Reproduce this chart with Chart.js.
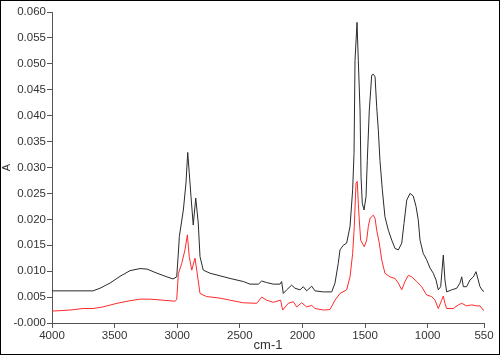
<!DOCTYPE html>
<html>
<head>
<meta charset="utf-8">
<script src="https://cdn.jsdelivr.net/npm/chart.js@4/dist/chart.umd.min.js"></script>
<style>
  html, body { margin: 0; padding: 0; background: #fff; }
  #wrap { width: 500px; height: 355px; }
</style>
</head>
<body>
<div id="wrap"><canvas id="irChart" width="500" height="355"></canvas></div>
<script>
// wavenumbers (cm-1) and absorbance
const blackWn = [4000, 3673, 3617, 3537, 3457, 3377, 3297, 3241, 3161, 3082, 3034, 3004, 2991, 2983, 2951, 2930, 2916, 2904, 2890, 2872, 2852, 2832, 2818, 2792, 2738, 2658, 2578, 2472, 2419, 2352, 2325, 2285, 2233, 2179, 2166, 2153, 2126, 2086, 2059, 2019, 1993, 1966, 1926, 1900, 1833, 1766, 1740, 1714, 1700, 1674, 1647, 1620, 1599, 1588, 1580, 1564, 1554, 1540, 1532, 1522, 1508, 1492, 1482, 1466, 1455, 1447, 1434, 1420, 1407, 1394, 1381, 1362, 1341, 1314, 1287, 1261, 1234, 1207, 1189, 1167, 1141, 1115, 1093, 1075, 1061, 1035, 1008, 981, 955, 933, 915, 896, 875, 862, 848, 808, 768, 742, 728, 715, 689, 662, 635, 614, 596, 582, 560, 550];
const blackAbs = [0.0062, 0.0062, 0.0067, 0.0077, 0.0090, 0.0101, 0.0105, 0.0104, 0.0096, 0.0089, 0.0085, 0.0089, 0.0135, 0.0167, 0.0218, 0.0270, 0.0329, 0.0290, 0.0244, 0.0189, 0.0241, 0.0193, 0.0128, 0.0102, 0.0096, 0.0091, 0.0086, 0.0080, 0.0075, 0.0075, 0.0081, 0.0078, 0.0075, 0.0075, 0.0080, 0.0057, 0.0064, 0.0073, 0.0067, 0.0064, 0.0070, 0.0062, 0.0071, 0.0062, 0.0060, 0.0060, 0.0077, 0.0115, 0.0141, 0.0150, 0.0154, 0.0186, 0.0257, 0.0327, 0.0507, 0.0580, 0.0507, 0.0411, 0.0282, 0.0231, 0.0218, 0.0244, 0.0314, 0.0411, 0.0449, 0.0478, 0.0480, 0.0475, 0.0417, 0.0372, 0.0314, 0.0257, 0.0205, 0.0179, 0.0160, 0.0144, 0.0141, 0.0154, 0.0192, 0.0237, 0.0250, 0.0245, 0.0225, 0.0199, 0.0160, 0.0134, 0.0122, 0.0106, 0.0096, 0.0083, 0.0064, 0.0070, 0.0131, 0.0083, 0.0060, 0.0064, 0.0067, 0.0077, 0.0089, 0.0070, 0.0070, 0.0083, 0.0089, 0.0099, 0.0083, 0.0070, 0.0062, 0.0061];

const redWn = [4000, 3856, 3752, 3673, 3593, 3481, 3377, 3297, 3217, 3113, 3018, 3004, 2991, 2964, 2938, 2919, 2904, 2884, 2858, 2844, 2818, 2765, 2658, 2578, 2472, 2365, 2325, 2285, 2233, 2174, 2158, 2113, 2073, 2046, 2006, 1966, 1926, 1900, 1833, 1780, 1740, 1700, 1647, 1620, 1599, 1586, 1572, 1562, 1554, 1546, 1535, 1522, 1506, 1487, 1474, 1460, 1434, 1420, 1407, 1386, 1367, 1341, 1301, 1261, 1234, 1207, 1181, 1154, 1127, 1087, 1048, 1008, 968, 941, 915, 888, 875, 862, 848, 795, 755, 728, 689, 648, 608, 582, 556, 550];
const redAbs = [0.0023, 0.0025, 0.0028, 0.0028, 0.0031, 0.0038, 0.0043, 0.0046, 0.0046, 0.0044, 0.0042, 0.0045, 0.0095, 0.0115, 0.0141, 0.0170, 0.0128, 0.0102, 0.0125, 0.0102, 0.0057, 0.0051, 0.0048, 0.0044, 0.0039, 0.0038, 0.0050, 0.0044, 0.0040, 0.0044, 0.0025, 0.0038, 0.0041, 0.0031, 0.0039, 0.0031, 0.0034, 0.0028, 0.0025, 0.0026, 0.0044, 0.0057, 0.0064, 0.0089, 0.0134, 0.0186, 0.0270, 0.0273, 0.0231, 0.0199, 0.0160, 0.0154, 0.0147, 0.0160, 0.0186, 0.0202, 0.0208, 0.0202, 0.0179, 0.0154, 0.0122, 0.0096, 0.0089, 0.0086, 0.0077, 0.0064, 0.0080, 0.0092, 0.0089, 0.0080, 0.0070, 0.0054, 0.0051, 0.0044, 0.0028, 0.0044, 0.0052, 0.0038, 0.0028, 0.0028, 0.0035, 0.0038, 0.0033, 0.0035, 0.0033, 0.0033, 0.0025, 0.0024];

const xTicks = [4000, 3500, 3000, 2500, 2000, 1500, 1000, 550];
const yMin = 0, yMax = 0.06, yStep = 0.005;

function toPoints(xs, ys) {
    return xs.map((x, i) => ({ x: x, y: ys[i] }));
}

// black frame round the whole picture
const framePlugin = {
    id: 'frame',
    afterDraw(chart) {
        const c = chart.ctx;
        c.save();
        c.strokeStyle = '#000';
        c.lineWidth = 1;
        c.strokeRect(0.5, 0.5, chart.width - 1, chart.height - 1);
        c.restore();
    }
};

const tickFont = { family: 'Liberation Sans, Arial, sans-serif', size: 11.5 };
const axisColor = '#555';

new Chart(document.getElementById('irChart').getContext('2d'), {
    type: 'line',
    data: {
        datasets: [{
            label: 'sample',
            data: toPoints(blackWn, blackAbs),
            borderColor: '#2a2a2a',
            borderWidth: 1,
            pointRadius: 0,
            fill: false,
            tension: 0
        }, {
            label: 'reference',
            data: toPoints(redWn, redAbs),
            borderColor: '#ff2a2a',
            borderWidth: 1,
            pointRadius: 0,
            fill: false,
            tension: 0
        }]
    },
    options: {
        responsive: false,
        animation: false,
        layout: { padding: { left: 0, top: 12, right: 16, bottom: 0 } },
        plugins: { legend: { display: false }, tooltip: { enabled: false } },
        scales: {
            x: {
                type: 'linear',
                reverse: true,
                min: 550,
                max: 4000,
                afterBuildTicks: (axis) => { axis.ticks = xTicks.map(v => ({ value: v })); },
                afterFit: (s) => { s.height = 32; },
                ticks: {
                    autoSkip: false,
                    maxRotation: 0,
                    padding: 1,
                    color: '#333',
                    font: tickFont,
                    callback: (v) => String(v)
                },
                grid: { drawOnChartArea: false, drawTicks: true, tickLength: 5, color: axisColor },
                border: { display: true, color: axisColor, width: 1 },
                title: {
                    display: true,
                    text: 'cm-1',
                    color: '#333',
                    font: { family: 'Liberation Sans, Arial, sans-serif', size: 13 },
                    padding: { top: 0, bottom: 2 }
                }
            },
            y: {
                min: yMin,
                max: yMax,
                afterFit: (s) => { s.width = 52; },
                ticks: {
                    stepSize: yStep,
                    padding: 1,
                    color: '#333',
                    font: tickFont,
                    callback: (v) => Math.abs(v) < 1e-9 ? '-0.000' : v.toFixed(3)
                },
                grid: { drawOnChartArea: false, drawTicks: true, tickLength: 5, color: axisColor },
                border: { display: true, color: axisColor, width: 1 },
                title: {
                    display: true,
                    text: 'A',
                    color: '#333',
                    font: { family: 'Liberation Sans, Arial, sans-serif', size: 11 },
                    padding: { top: 0, bottom: 0 }
                }
            }
        }
    },
    plugins: [framePlugin]
});
</script>
</body>
</html>
